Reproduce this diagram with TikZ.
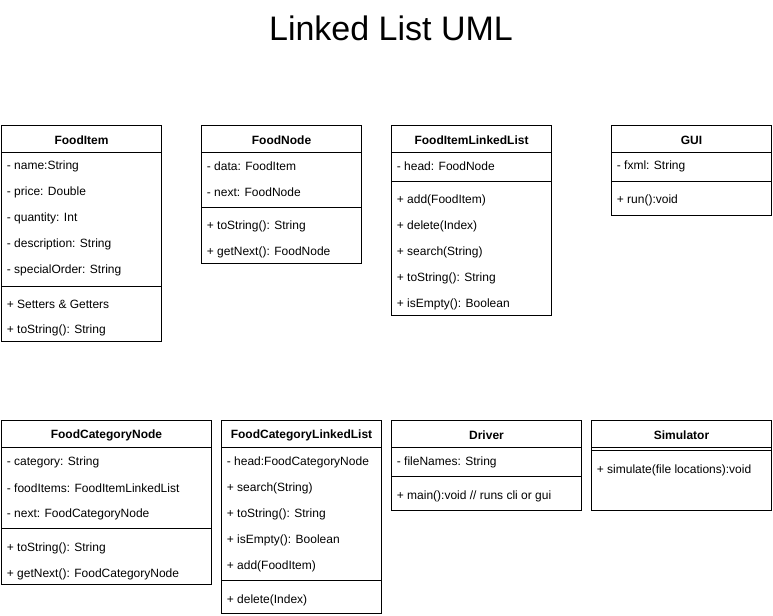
\documentclass[tikz,border=0pt]{standalone}
\usepackage{fontspec}
\setmainfont{Liberation Sans}
\usetikzlibrary{fit}
\begin{document}
\begin{tikzpicture}[x=0.75pt,y=-0.75pt,
  cls/.style={draw=black,line width=0.75pt,inner sep=0pt},
  sepline/.style={draw=black,line width=0.75pt},
  row/.style={anchor=west,inner sep=0pt,xshift=4.2pt,yshift=-1.2pt,font=\fontsize{9}{10}\selectfont},
  hdr/.style={inner sep=0pt,yshift=-0.8pt,font=\fontsize{9}{10}\selectfont\bfseries},
  ttl/.style={inner sep=0pt,font=\fontsize{25.5}{28}\selectfont}]
\useasboundingbox (0,0) rectangle (773,615);
\fill[white] (0,0) rectangle (773,615);
\node[ttl] (title) at (391,28) {Linked List UML};

% FoodItem
\node[cls,fit={(1.5,125.5) (161.5,341.5)}] (fi) {};
\draw[sepline] (fi.west |- 0,152) -- (fi.east |- 0,152);
\draw[sepline] (fi.west |- 0,286) -- (fi.east |- 0,286);
\node[hdr] (fih) at (fi.north |- 0,139) {FoodItem};
\node[row] (fi1) at (fi.west |- 0,165) {- name:String};
\node[row] (fi2) at (fi.west |- 0,191) {- price: Double};
\node[row] (fi3) at (fi.west |- 0,217) {- quantity: Int};
\node[row] (fi4) at (fi.west |- 0,243) {- description: String};
\node[row] (fi5) at (fi.west |- 0,269) {- specialOrder: String};
\node[row] (fi6) at (fi.west |- 0,303) {+ Setters \& Getters};
\node[row] (fi7) at (fi.west |- 0,329) {+ toString(): String};

% FoodNode
\node[cls,fit={(201.5,125.5) (361.5,263.5)}] (fn) {};
\draw[sepline] (fn.west |- 0,152) -- (fn.east |- 0,152);
\draw[sepline] (fn.west |- 0,207.5) -- (fn.east |- 0,207.5);
\node[hdr] (fnh) at (fn.north |- 0,139) {FoodNode};
\node[row] (fn1) at (fn.west |- 0,165) {- data: FoodItem};
\node[row] (fn2) at (fn.west |- 0,191) {- next: FoodNode};
\node[row] (fn3) at (fn.west |- 0,225) {+ toString(): String};
\node[row] (fn4) at (fn.west |- 0,251) {+ getNext(): FoodNode};

% FoodItemLinkedList
\node[cls,fit={(391.5,125.5) (551.5,315.5)}] (fl) {};
\draw[sepline] (fl.west |- 0,152) -- (fl.east |- 0,152);
\draw[sepline] (fl.west |- 0,181.5) -- (fl.east |- 0,181.5);
\node[hdr] (flh) at (fl.north |- 0,139) {FoodItemLinkedList};
\node[row] (fl1) at (fl.west |- 0,165) {- head: FoodNode};
\node[row] (fl2) at (fl.west |- 0,199) {+ add(FoodItem)};
\node[row] (fl3) at (fl.west |- 0,225) {+ delete(Index)};
\node[row] (fl4) at (fl.west |- 0,251) {+ search(String)};
\node[row] (fl5) at (fl.west |- 0,277) {+ toString(): String};
\node[row] (fl6) at (fl.west |- 0,303) {+ isEmpty(): Boolean};

% GUI
\node[cls,fit={(611.5,125.5) (771.5,215.5)}] (gui) {};
\draw[sepline] (gui.west |- 0,152) -- (gui.east |- 0,152);
\draw[sepline] (gui.west |- 0,181.5) -- (gui.east |- 0,181.5);
\node[hdr] (guih) at (gui.north |- 0,139) {GUI};
\node[row] (gui1) at (gui.west |- 0,165) {- fxml: String};
\node[row] (gui2) at (gui.west |- 0,199) {+ run():void};

% FoodCategoryNode
\node[cls,fit={(1.5,420.5) (211.5,584.5)}] (cn) {};
\draw[sepline] (cn.west |- 0,447) -- (cn.east |- 0,447);
\draw[sepline] (cn.west |- 0,528.5) -- (cn.east |- 0,528.5);
\node[hdr] (cnh) at (cn.north |- 0,434) {FoodCategoryNode};
\node[row] (cn1) at (cn.west |- 0,461) {- category: String};
\node[row] (cn2) at (cn.west |- 0,487) {- foodItems: FoodItemLinkedList};
\node[row] (cn3) at (cn.west |- 0,513) {- next: FoodCategoryNode};
\node[row] (cn4) at (cn.west |- 0,547) {+ toString(): String};
\node[row] (cn5) at (cn.west |- 0,573) {+ getNext(): FoodCategoryNode};

% FoodCategoryLinkedList
\node[cls,fit={(221.5,420.5) (381.5,613.5)}] (cl) {};
\draw[sepline] (cl.west |- 0,447) -- (cl.east |- 0,447);
\draw[sepline] (cl.west |- 0,580.5) -- (cl.east |- 0,580.5);
\node[hdr] (clh) at (cl.north |- 0,434) {FoodCategoryLinkedList};
\node[row] (cl1) at (cl.west |- 0,461) {- head:FoodCategoryNode};
\node[row] (cl2) at (cl.west |- 0,487) {+ search(String)};
\node[row] (cl3) at (cl.west |- 0,513) {+ toString(): String};
\node[row] (cl4) at (cl.west |- 0,539) {+ isEmpty(): Boolean};
\node[row] (cl5) at (cl.west |- 0,565) {+ add(FoodItem)};
\node[row] (cl6) at (cl.west |- 0,599) {+ delete(Index)};

% Driver
\node[cls,fit={(391.5,420.5) (581.5,510.5)}] (dr) {};
\draw[sepline] (dr.west |- 0,447) -- (dr.east |- 0,447);
\draw[sepline] (dr.west |- 0,476.5) -- (dr.east |- 0,476.5);
\node[hdr] (drh) at (dr.north |- 0,434) {Driver};
\node[row] (dr1) at (dr.west |- 0,461) {- fileNames: String};
\node[row] (dr2) at (dr.west |- 0,495) {+ main():void // runs cli or gui};

% Simulator
\node[cls,fit={(591.5,420.5) (771.5,510.5)}] (sim) {};
\draw[sepline] (sim.west |- 0,447) -- (sim.east |- 0,447);
\draw[sepline] (sim.west |- 0,450.5) -- (sim.east |- 0,450.5);
\node[hdr] (simh) at (sim.north |- 0,434) {Simulator};
\node[row] (sim1) at (sim.west |- 0,469) {+ simulate(file locations):void};
\end{tikzpicture}
\end{document}
